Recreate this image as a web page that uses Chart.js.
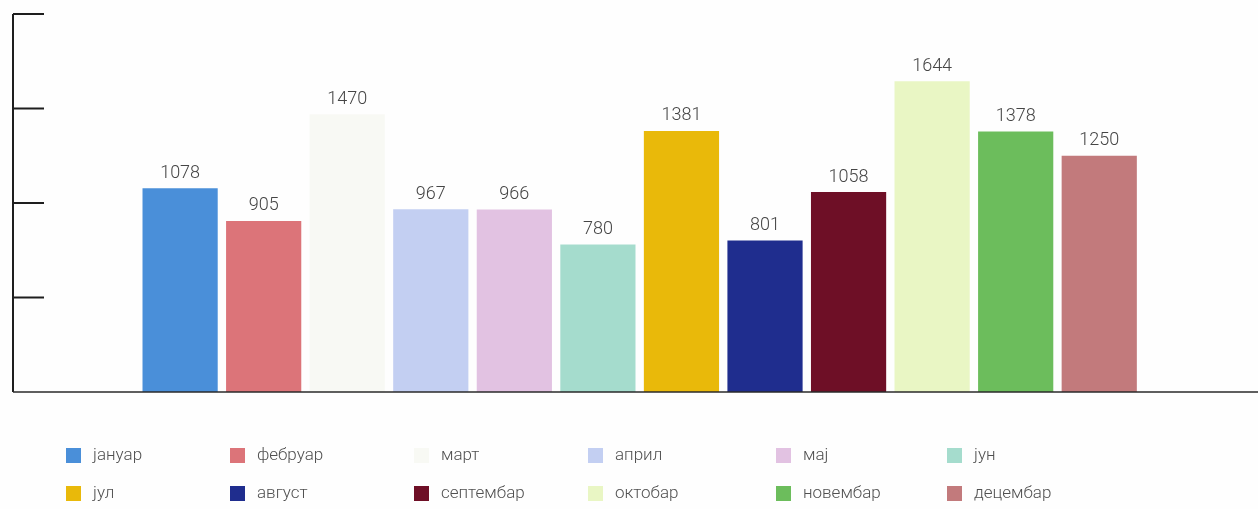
<!DOCTYPE html>
<html>
<head>
<meta charset="utf-8">
<script src="https://cdn.jsdelivr.net/npm/chart.js@4"></script>
<style>
  html, body { margin:0; padding:0; background:#fefefe; }
  #wrap { position:relative; width:1258px; height:509px; overflow:hidden; }
  #c { position:absolute; left:0; top:0; }
  .leg { position:absolute; font-family:Roboto, "Noto Sans", sans-serif; font-weight:300; font-size:17px; color:#505050; white-space:nowrap; }
  .sw { position:absolute; width:15px; height:15px; }
</style>
</head>
<body>
<div id="wrap">
  <canvas id="c" width="1258" height="509"></canvas>
  <div id="legend"></div>
</div>
<script>
// ---- data ----
const months = ['јануар','фебруар','март','април','мај','јун','јул','август','септембар','октобар','новембар','децембар'];
const values = [1078, 905, 1470, 967, 966, 780, 1381, 801, 1058, 1644, 1378, 1250];
const colors = ['#4a8fd9','#dc7479','#f8f9f4','#c3cff2','#e2c2e2','#a5dccd','#e9b90a','#1f2d8e','#6e0f26','#e9f6c4','#6cbd5c','#c27a7c'];
const yTicks = [0, 500, 1000, 1500, 2000];

// ---- layout / style ----
const legendCols = [66, 230, 414, 588, 776, 947];
const legendRows = [456, 494];
const textOffset = 27;

const axisPlugin = {
  id: 'axes',
  afterDatasetsDraw(chart) {
    const {ctx, chartArea, scales} = chart;
    const y = scales.y;
    ctx.save();
    ctx.strokeStyle = '#1e1e1e';
    ctx.lineWidth = 2;
    const y0 = y.getPixelForValue(0);
    const yTop = y.getPixelForValue(yTicks[yTicks.length - 1]);
    ctx.beginPath();
    ctx.moveTo(chartArea.left, yTop);
    ctx.lineTo(chartArea.left, y0);
    ctx.stroke();
    yTicks.forEach(v => {
      if (v === 0) return;
      const py = y.getPixelForValue(v);
      ctx.beginPath();
      ctx.moveTo(chartArea.left, py);
      ctx.lineTo(chartArea.left + 31, py);
      ctx.stroke();
    });
    ctx.strokeStyle = '#2a2a2a';
    ctx.lineWidth = 1.6;
    ctx.beginPath();
    ctx.moveTo(chartArea.left, y0);
    ctx.lineTo(chartArea.right, y0);
    ctx.stroke();
    // value labels
    const meta = chart.getDatasetMeta(0);
    ctx.fillStyle = '#454545';
    ctx.font = '300 18px Roboto, "Noto Sans", sans-serif';
    ctx.textAlign = 'center';
    ctx.textBaseline = 'bottom';
    meta.data.forEach((bar, i) => {
      ctx.fillText(String(values[i]), bar.x, bar.y - 6);
    });
    ctx.restore();
  }
};

new Chart(document.getElementById('c'), {
  type: 'bar',
  data: {
    datasets: [{
      data: values.map((v, i) => ({x: i, y: v})),
      backgroundColor: colors,
      borderWidth: 0,
      categoryPercentage: 1,
      barPercentage: 0.9
    }]
  },
  options: {
    responsive: false,
    animation: false,
    layout: { padding: { left: 13, top: 14, right: 0, bottom: 117 } },
    plugins: { legend: { display: false }, tooltip: { enabled: false } },
    scales: {
      x: {
        type: 'linear', min: -2, max: 12.9, offset: false, display: false,
        afterBuildTicks: s => { s.ticks = s.ticks.filter(t => Number.isInteger(t.value)); }
      },
      y: { min: 0, max: 2000, display: false }
    }
  },
  plugins: [axisPlugin]
});

// HTML legend built from arrays
const leg = document.getElementById('legend');
months.forEach((m, i) => {
  const col = i % 6, row = Math.floor(i / 6);
  const sw = document.createElement('div');
  sw.className = 'sw';
  sw.style.left = legendCols[col] + 'px';
  sw.style.top = (legendRows[row] - 8) + 'px';
  sw.style.background = colors[i];
  leg.appendChild(sw);
  const t = document.createElement('div');
  t.className = 'leg';
  t.textContent = m;
  t.style.left = (legendCols[col] + textOffset) + 'px';
  t.style.top = (legendRows[row] - 12) + 'px';
  leg.appendChild(t);
});
</script>
</body>
</html>
